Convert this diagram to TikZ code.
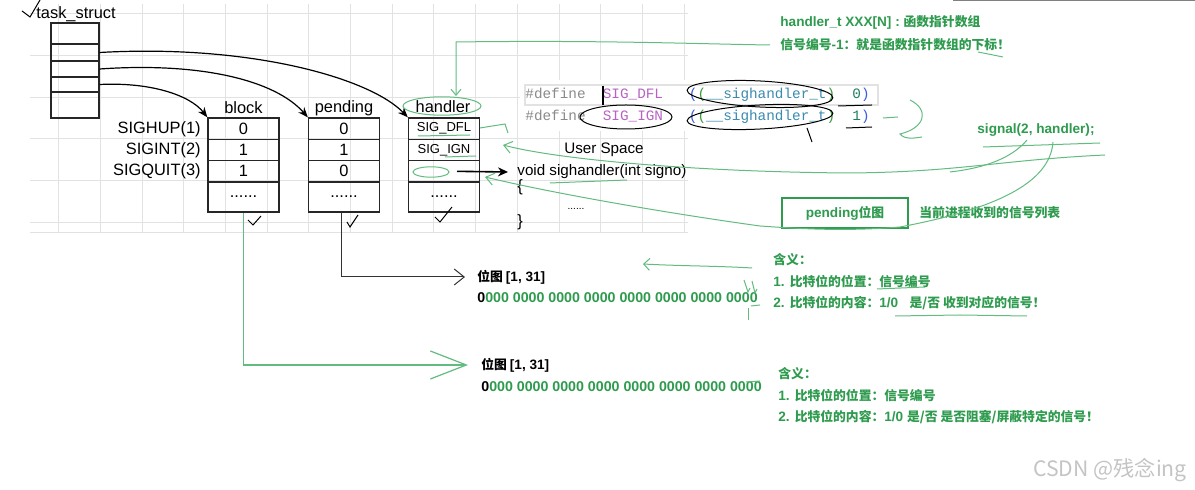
\documentclass[tikz,border=0pt]{standalone}
\usepackage{fontspec}
\setmainfont{Liberation Sans}
\newfontfamily\handf{Liberation Sans}
\newfontfamily\codef{Liberation Mono}
\newfontfamily\cjkf{Noto Sans CJK SC}
\newfontfamily\latf{Liberation Sans}
\usetikzlibrary{arrows.meta,calc}
\definecolor{gtext}{HTML}{2E9B4E}
\definecolor{glin}{HTML}{62BC80}
\definecolor{gridc}{HTML}{E2E2E2}
\definecolor{cgray}{HTML}{8A8A8A}
\definecolor{cmac}{HTML}{B862C4}
\definecolor{cblue}{HTML}{3B5EE0}
\definecolor{cgrn}{HTML}{3C9A3C}
\definecolor{ctype}{HTML}{3B8AB0}
\definecolor{cnum}{HTML}{1F7F5F}
\definecolor{wmark}{HTML}{C4C4C4}
\newcommand\csp{\phantom{0}}
\newcommand\lat[1]{{\latf\bfseries\fontsize{6.8}{8}\selectfont #1}}
\begin{document}
\begin{tikzpicture}[x=0.5pt,y=-0.5pt,
  cell/.style={draw=black!85,line width=0.7pt,inner sep=0pt,minimum width=35.5pt,font=\handf\fontsize{8.2}{9}\selectfont},
  tsrow/.style={draw=black!85,line width=0.7pt,inner sep=0pt,minimum width=24pt},
  lab/.style={inner sep=0pt,font=\handf\fontsize{8.2}{9}\selectfont},
  codeline/.style={inner sep=0pt,anchor=west,font=\codef\fontsize{7.17}{8}\selectfont},
  gtxt/.style={inner sep=0pt,anchor=west,text=gtext,font=\cjkf\bfseries\fontsize{6.4}{8}\selectfont},
  btxt/.style={inner sep=0pt,anchor=west,text=black,font=\cjkf\bfseries\fontsize{6.4}{8}\selectfont},
  bits/.style={inner sep=0pt,anchor=west,text=gtext,font=\latf\bfseries\fontsize{7.1}{8}\selectfont},
  gpen/.style={glin,line width=0.5pt},
  bpen/.style={black,line width=0.5pt},
  tsarrow/.style={-{Stealth[length=5pt,width=4pt]},line width=0.6pt,black}
]
\useasboundingbox (0,0) rectangle (1195,490);
\fill[white] (0,0) rectangle (1195,490);

% background grid
\foreach \gx in {58.5,100.2,141.9,183.6,225.3,267,308.7,350.4,392.1,433.8,475.5,517.2,558.9,600.6,642.3,684}
  \draw[gridc,line width=0.4pt] (\gx,4) -- (\gx,232);
\foreach \gy in {13,55,97,138,180,222,232}
  \draw[gridc,line width=0.4pt] (30,\gy) -- (688,\gy);

% top artefact line
\draw[gray,line width=0.8pt] (953,0.5) -- (1195,0.5);

% code snippet
\fill[white] (520,80) rectangle (882,131);
\draw[gridc,line width=0.6pt] (525,85) rectangle (878,105);
\node[codeline] (def1) at (525,95) {\textcolor{cgray}{\#define}\csp\csp\textcolor{cmac}{SIG\_DFL}\csp\csp\csp\textcolor{cblue}{(}\textcolor{cgrn}{(}\textcolor{ctype}{\_\_sighandler\_t}\textcolor{cgrn}{)}\csp\csp\textcolor{cnum}{0}\textcolor{cblue}{)}};
\node[codeline] (def2) at (525,117) {\textcolor{cgray}{\#define}\csp\csp\textcolor{cmac}{SIG\_IGN}\csp\csp\csp\textcolor{cblue}{(}\textcolor{cgrn}{(}\textcolor{ctype}{\_\_sighandler\_t}\textcolor{cgrn}{)}\csp\csp\textcolor{cnum}{1}\textcolor{cblue}{)}};
\draw[black,line width=1.2pt] (603,86) -- (603,105);
% black hand marks on code
\draw[bpen] (626,117) ellipse [x radius=23pt,y radius=6pt];
\draw[bpen,rotate around={-3:(760,94)}] (760,94) ellipse [x radius=36.5pt,y radius=6.5pt];
\draw[bpen,rotate around={3:(760,117)}] (760,117) ellipse [x radius=36.5pt,y radius=6pt];
\draw[bpen] (838,106) -- (872,105);
\draw[bpen] (846,128) -- (872,127);
\draw[bpen] (807,128) -- (812,142);

% task_struct
\node[lab,anchor=west] (tslab) at (36,14) {task\_struct};
\node[tsrow,minimum height=10.5pt] (ts1) at (75,33.5) {};
\node[tsrow,minimum height=8.5pt] (ts2) at (75,52.5) {};
\node[tsrow,minimum height=8pt] (ts3) at (75,69) {};
\node[tsrow,minimum height=7.5pt] (ts4) at (75,84.5) {};
\node[tsrow,minimum height=13pt] (ts5) at (75,105) {};
\draw[bpen] (22,11) -- (30,17) -- (40,0);

% table headers
\node[lab] (blab) at (243.5,108) {block};
\node[lab] (plab) at (344,108) {pending};
\node[lab] (hlab) at (443,107) {handler};

% signal names
\node[lab,anchor=east] (s1) at (201,129) {SIGHUP(1)};
\node[lab,anchor=east] (s2) at (201,150) {SIGINT(2)};
\node[lab,anchor=east] (s3) at (201,171.5) {SIGQUIT(3)};

% block table
\node[cell,minimum height=10.65pt] (b1) at (243.5,128.65) {0};
\node[cell,minimum height=10.65pt] (b2) at (243.5,150) {1};
\node[cell,minimum height=10.65pt] (b3) at (243.5,171.35) {1};
\node[cell,minimum height=15pt] (b4) at (243.5,197) {......};
% pending table
\node[cell,minimum height=10.65pt] (p1) at (344,128.65) {0};
\node[cell,minimum height=10.65pt] (p2) at (344,150) {1};
\node[cell,minimum height=10.65pt] (p3) at (344,171.35) {0};
\node[cell,minimum height=15pt] (p4) at (344,197) {......};
% handler table
\node[cell,minimum height=10.65pt,font=\handf\fontsize{6.5}{8}\selectfont] (h1) at (444,128.65) {SIG\_DFL};
\node[cell,minimum height=10.65pt,font=\handf\fontsize{6.5}{8}\selectfont] (h2) at (444,150) {SIG\_IGN};
\node[cell,minimum height=10.65pt] (h3) at (444,171.35) {};
\node[cell,minimum height=15pt] (h4) at (444,197) {......};

% pointers from task_struct
\draw[tsarrow] (ts2.east) .. controls (250,44) and (370,78) .. (h1.north west);
\draw[tsarrow] (ts3.east) .. controls (200,62) and (275,80) .. (p1.north west);
\draw[tsarrow] (ts4.east) .. controls (150,82) and (190,95) .. (b1.north west);

% user space function
\node[lab,font=\handf\fontsize{7.6}{9}\selectfont] (us) at (604,150) {User Space};
\node[lab,anchor=west,font=\handf\fontsize{7.6}{9}\selectfont] (fn) at (517,172) {void sighandler(int signo)};
\node[lab,anchor=west] (ob) at (517,187) {\{};
\node[lab,font=\handf\fontsize{5}{6}\selectfont] (dots) at (576,209) {......};
\node[lab,anchor=west] (cb) at (517,222) {\}};
\draw[-{Stealth[length=5pt,width=4.5pt]},line width=0.8pt] ([xshift=6.5pt]h3.center) -- ([xshift=-4.5pt]fn.west);

% check marks under tables
\draw[bpen] (248,220) -- (253,225) -- (261,216);
\draw[bpen] (347,222) -- (350,227) -- (358,215);
\draw[bpen] (435,217) -- (440,222) -- (452,207);

% bitmaps
\node[btxt] (bm1) at (477,277) {位图 \lat{[1, 31]}};
\node[bits] (bits1) at (477,298) {\textcolor{black}{0}000 0000 0000 0000 0000 0000 0000 0000};
\node[btxt] (bm2) at (481,365) {位图 \lat{[1, 31]}};
\node[bits] (bits2) at (481,387) {\textcolor{black}{0}000 0000 0000 0000 0000 0000 0000 0000};

\draw[black!80,line width=0.5pt,-{Straight Barb[length=5pt,width=8pt]}] ([xshift=-1.5pt]p4.south) |- ([xshift=-6pt]bm1.west);
\draw[glin,line width=0.6pt,-{Straight Barb[length=18pt,width=14pt]}] (b4.south) |- ([xshift=-6.5pt]bm2.west);

% green texts
\node[gtxt] (g1) at (780,22) {\lat{handler\_t XXX[N] : }函数指针数组};
\node[gtxt] (g2) at (780,45) {信号编号\lat{-1}：就是函数指针数组的下标！};
\node[gtxt] (sig) at (977,130) {\lat{signal(2, handler);}};
\node[draw=gtext,line width=1.3pt,minimum width=63pt,minimum height=15pt,inner sep=0pt,text=gtext,font=\cjkf\bfseries\fontsize{6.4}{8}\selectfont] (pbox) at (845,213) {\lat{pending}位图};
\node[gtxt] (plist) at (919,213) {当前进程收到的信号列表};
\node[gtxt] (m1a) at (773,260) {含义：};
\node[gtxt] (m1b) at (773,282) {\lat{1. }比特位的位置：信号编号};
\node[gtxt] (m1c) at (773,303) {\lat{2. }比特位的内容：\lat{1/0\ \ \ }是/否 收到对应的信号！};
\node[gtxt] (m2a) at (778,374) {含义：};
\node[gtxt] (m2b) at (778,396) {\lat{1. }比特位的位置：信号编号};
\node[gtxt] (m2c) at (778,417) {\lat{2. }比特位的内容：\lat{1/0 }是/否 是否阻塞/屏蔽特定的信号！};

% watermark
\node[inner sep=0pt,anchor=west,text=wmark,font=\cjkf\fontsize{10.6}{12}\selectfont] (wm) at (1033,470) {CSDN @残念ing};

% green hand-drawn annotations
\draw[gpen,-{Straight Barb[length=3pt,width=5pt]}] ([xshift=-5pt]g2.west) .. controls (700,44) and (600,40) .. (456,42) -- (456,96);
\draw[gpen] (442,106) ellipse [x radius=19.5pt,y radius=4.6pt];
\draw[gpen] (418,136) -- (470,135);
\draw[gpen] (445,157) -- (476,156);
\draw[gpen] (431,172) ellipse [x radius=9pt,y radius=2.6pt];
\draw[gpen] (480,128) -- (505,124) -- (508,133);
\draw[gpen,-{Straight Barb[length=4pt,width=6pt]}] (1105,155) .. controls (1000,160) and (960,172) .. (850,173) .. controls (700,172) and (560,160) .. (503,145);
\draw[gpen] (1027,140) .. controls (1012,158) and (985,168) .. (950,172);
\draw[gpen,-{Straight Barb[length=4pt,width=6pt]}] (1053,142) .. controls (1050,185) and (990,210) .. (900,227) .. controls (840,232) and (790,228) .. (760,226) .. controls (680,215) and (560,195) .. (485,177);
\draw[gpen] (983,147) -- (1100,143);
\draw[gpen] (550,183) -- (627,180);
\draw[gpen] (978,52) -- (1003,57);
\draw[gpen] (883,118) -- (898,117);
\draw[gpen] (910,100) .. controls (930,110) and (925,128) .. (900,134) .. controls (905,140) and (915,138) .. (922,137);
\draw[gpen] (877,289) -- (925,287);
\draw[gpen] (895,316) -- (960,315) -- (1027,316);
\draw[gpen,-{Straight Barb[length=3pt,width=6pt]}] (752,268) .. controls (720,266) and (680,266) .. (643,264);
\draw[gpen] (744,280) -- (748,292) -- (750,288);
\draw[gpen] (752,281) -- (755,293) -- (757,289);
\draw[gpen] (748,308) -- (748,320);
\draw[gpen] (751,306) -- (760,305);
\draw[gpen] (746,382) -- (760,381);
\end{tikzpicture}
\end{document}
